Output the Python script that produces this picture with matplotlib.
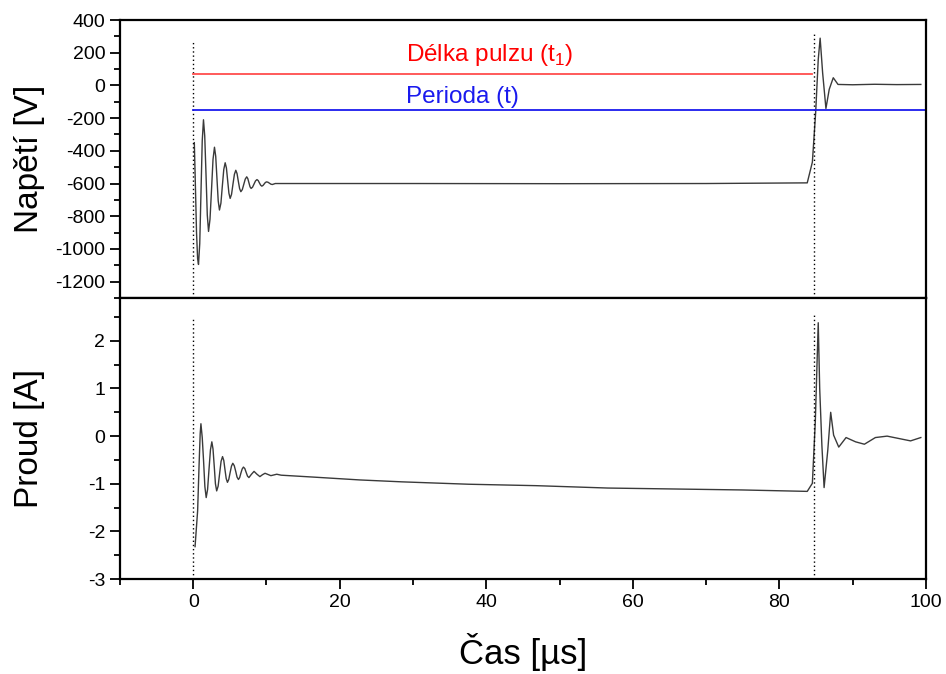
import matplotlib
matplotlib.use('Agg')
import matplotlib.pyplot as plt
from matplotlib.ticker import MultipleLocator

plt.rcParams['font.family'] = ['Liberation Sans', 'DejaVu Sans']
plt.rcParams['mathtext.fontset'] = 'custom'
plt.rcParams['mathtext.rm'] = 'Liberation Sans'
plt.rcParams['axes.unicode_minus'] = False

# Napeti (V) vs cas (us)
t_napeti = [0.15, 0.3, 0.45, 0.6, 0.72, 0.89, 1.06, 1.23, 1.40, 1.57, 1.75, 1.92, 2.09,
            2.29, 2.50, 2.70, 2.90, 3.07, 3.24, 3.41, 3.58, 3.78, 3.97, 4.17, 4.36, 4.53,
            4.70, 4.87, 5.04, 5.23, 5.42, 5.62, 5.81, 5.98, 6.15, 6.33, 6.50, 6.70, 6.90,
            7.10, 7.30, 7.45, 7.60, 7.75, 7.90, 8.10, 8.30, 8.50, 8.70, 8.87, 9.03, 9.20,
            9.36, 9.52, 9.68, 9.84, 10.0, 10.2, 10.4, 10.6, 10.8, 11.2, 30.0, 50.0, 70.0,
            83.8, 84.5, 84.95, 85.3, 85.56, 85.9, 86.35, 86.8, 87.35, 88.0, 90.0, 93.0,
            96.0, 99.3]
napeti = [-350, -620, -900, -1060, -1095, -967, -652, -339, -210, -309, -551, -793, -893,
          -818, -635, -453, -378, -434, -570, -706, -762, -720, -617, -514, -473, -505,
          -582, -659, -691, -666, -605, -544, -519, -539, -585, -631, -650, -637, -605,
          -573, -559, -570, -595, -620, -630, -622, -603, -584, -576, -582, -596, -610,
          -616, -612, -603, -594, -590, -592, -598, -604, -606, -600, -600, -601, -600,
          -596, -469, -165, 158, 289, 77, -141, -24, 47, 6, 4, 7,
          5, 6]

# Proud (A) vs cas (us)
t_proud = [0.25, 0.6, 0.8, 0.95, 1.05, 1.23, 1.41, 1.59, 1.77, 1.96, 2.15, 2.35, 2.54,
           2.70, 2.87, 3.03, 3.2, 3.4, 3.6, 3.8, 4.0, 4.17, 4.33, 4.5, 4.67, 4.85, 5.03,
           5.22, 5.4, 5.6, 5.8, 5.98, 6.17, 6.34, 6.5, 6.68, 6.85, 7.04, 7.22, 7.41, 7.6,
           7.95, 8.3, 8.7, 9.1, 9.45, 9.8, 10.6, 11.4, 12.0, 16.4, 22.75, 28.5, 37.6,
           46.8, 56.6, 74.9, 83.8, 84.5, 84.9, 85.3, 85.5, 85.8, 86.1, 86.6, 87.0, 87.4,
           88.1, 89.1, 90.4, 91.6, 93.1, 94.7, 96.3, 97.9, 99.3]
proud = [-2.32, -1.57, -0.6, 0.05, 0.26, -0.03, -0.515, -1.06, -1.29, -1.12, -0.705, -0.29,
         -0.12, -0.27, -0.635, -1.0, -1.15, -1.05, -0.79, -0.53, -0.43, -0.51, -0.70, -0.89,
         -0.97, -0.91, -0.77, -0.63, -0.57, -0.62, -0.74, -0.86, -0.91, -0.87, -0.78, -0.69,
         -0.65, -0.68, -0.76, -0.84, -0.87, -0.8, -0.74, -0.8, -0.85, -0.81, -0.78, -0.83,
         -0.8, -0.82, -0.86, -0.92, -0.96, -1.01, -1.04, -1.09, -1.13, -1.16, -0.99, 0.3,
         2.38, 1.0, -0.2, -1.08, -0.3, 0.5, 0.02, -0.23, -0.03, -0.12, -0.17, -0.03, 0.0,
         -0.05, -0.1, -0.03]

# markers: pulse start / end, pulse length and period lines
t_start, t_konec = 0.0, 84.7
delka_pulzu = [0.0, 84.5]
perioda = [0.0, 100.0]
v_delka, v_perioda = 71, -150

fig = plt.figure(figsize=(9.46, 6.74), dpi=100)
ax1 = fig.add_axes([0.1268, 0.5579, 0.852, 0.4124])
ax2 = fig.add_axes([0.1268, 0.1409, 0.852, 0.4170])

trace = dict(color='#3a3a3a', lw=1.0)
dots = dict(color='k', lw=1.0, ls=(0, (1, 2)))

# top panel
ax1.plot(t_napeti, napeti, **trace)
ax1.plot([t_start, t_start], [-1300, 268], **dots)
ax1.plot([t_konec, t_konec], [-1300, 319], **dots)
ax1.plot(delka_pulzu, [v_delka, v_delka], color='#ff4d4d', lw=1.3)
ax1.plot(perioda, [v_perioda, v_perioda], color='#1a1aee', lw=1.3)
ax1.text(29.1, 150, 'Délka pulzu (t$_\\mathregular{1}$)', color='red', fontsize=17.5)
ax1.text(29.1, -105, 'Perioda (t)', color='#1a1aee', fontsize=17.5)
ax1.set_xlim(-10, 100)
ax1.set_ylim(-1300, 400)
ax1.yaxis.set_major_locator(MultipleLocator(200))
ax1.yaxis.set_minor_locator(MultipleLocator(100))
ax1.xaxis.set_major_locator(MultipleLocator(10))
ax1.tick_params(axis='x', which='both', direction='out', length=4, width=1.3, labelbottom=False)
ax1.tick_params(axis='y', which='major', direction='out', length=7, width=1.3, labelsize=14)
ax1.tick_params(axis='y', which='minor', direction='out', length=4, width=1.3)
ax1.set_ylabel('Napětí [V]', fontsize=24)
ax1.yaxis.set_label_coords(-0.093, 0.5)

# bottom panel
ax2.plot(t_proud, proud, **trace)
ax2.plot([t_start, t_start], [-3, 2.47], **dots)
ax2.plot([t_konec, t_konec], [-3, 2.57], **dots)
ax2.set_xlim(-10, 100)
ax2.set_ylim(-3, 2.9)
ax2.xaxis.set_major_locator(MultipleLocator(20))
ax2.xaxis.set_minor_locator(MultipleLocator(10))
ax2.yaxis.set_major_locator(MultipleLocator(1))
ax2.yaxis.set_minor_locator(MultipleLocator(0.5))
ax2.tick_params(which='major', direction='out', length=7, width=1.3, labelsize=14)
ax2.tick_params(which='minor', direction='out', length=4, width=1.3)
ax2.set_ylabel('Proud [A]', fontsize=24)
ax2.yaxis.set_label_coords(-0.093, 0.5)
ax2.set_xlabel('Čas [µs]', fontsize=25, labelpad=16)

for ax in (ax1, ax2):
    for s in ax.spines.values():
        s.set_linewidth(1.6)

fig.savefig('out.png', dpi=100)
